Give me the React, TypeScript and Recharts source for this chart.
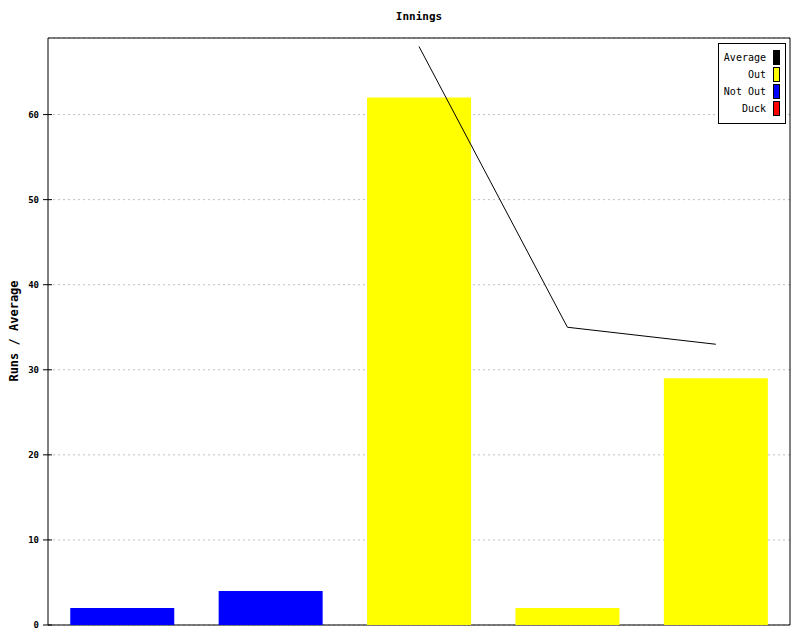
import React from 'react';
import { ComposedChart, Bar, Line, XAxis, YAxis, CartesianGrid, Legend, ReferenceArea } from 'recharts';

const innings = ['1', '2', '3', '4', '5'];
const outRuns: (number | null)[] = [null, null, 62, 2, 29];
const notOutRuns: (number | null)[] = [2, 4, null, null, null];
const duckRuns: (number | null)[] = [null, null, null, null, null];
const averageRuns: (number | null)[] = [null, null, 68, 35, 33];
const yTicks = [0, 10, 20, 30, 40, 50, 60];
const yMax = 69;
const legendNames = ['Average', 'Out', 'Not Out', 'Duck'];
const legendColors = ['#000000', '#ffff00', '#0000ff', '#ff0000'];

const data = innings.map((c, i) => ({
  inning: c,
  out: outRuns[i],
  notOut: notOutRuns[i],
  duck: duckRuns[i],
  average: averageRuns[i],
}));

const MONO = '"DejaVu Sans Mono", monospace';

const YTick = (props: any) => {
  const { x, y, payload } = props;
  return (
    <g>
      <line x1={x - 5} y1={y} x2={x + 4} y2={y} stroke="#000" strokeWidth={1} />
      <text x={x - 9} y={y} dy={3} textAnchor="end" fontFamily={MONO} fontSize={9} fontWeight="bold" fill="#000">
        {payload.value}
      </text>
    </g>
  );
};

const renderLegend = () => (
  <div
    style={{
      width: 68,
      height: 81,
      boxSizing: 'border-box',
      border: '1px solid #000',
      background: '#fff',
      paddingTop: 5,
      paddingRight: 5,
      fontFamily: MONO,
      fontSize: 10,
    }}
  >
    {legendNames.map((n, i) => (
      <div key={n} style={{ display: 'flex', justifyContent: 'flex-end', alignItems: 'center', height: 17 }}>
        <span style={{ lineHeight: '17px', color: '#000' }}>{n}</span>
        <span
          style={{
            display: 'inline-block',
            width: 7,
            height: 15,
            boxSizing: 'border-box',
            border: '1px solid #000',
            background: legendColors[i],
            marginLeft: 7,
          }}
        />
      </div>
    ))}
  </div>
);

export default function App() {
  return (
    <div style={{ position: 'absolute', left: 0, top: 0, width: 800, height: 640, background: '#fff' }}>
      <ComposedChart
        width={800}
        height={640}
        data={data}
        margin={{ top: 38, right: 10, bottom: 15, left: 0 }}
        barCategoryGap="15%"
      >
        <CartesianGrid vertical={false} stroke="#c0c0c0" strokeDasharray="2 3" horizontalPoints={undefined} />
        <XAxis dataKey="inning" height={0} tick={false} tickLine={false} axisLine={false} />
        <YAxis
          width={48}
          domain={[0, yMax]}
          ticks={yTicks}
          tickSize={0}
          tickMargin={0}
          tickLine={false}
          tick={<YTick />}
          axisLine={false}
          allowDataOverflow
        />
        <ReferenceArea y1={0} y2={yMax} fill="none" fillOpacity={0} stroke="#000" strokeWidth={1} isFront={false} />
        <Legend
          layout="vertical"
          align="center"
          verticalAlign="middle"
          content={renderLegend}
          wrapperStyle={{ left: 718, top: 43, width: 68, height: 81 }}
        />
        <Bar dataKey="out" name="Out" stackId="a" fill="#ffff00" isAnimationActive={false} />
        <Bar dataKey="notOut" name="Not Out" stackId="a" fill="#0000ff" isAnimationActive={false} />
        <Bar dataKey="duck" name="Duck" stackId="a" fill="#ff0000" isAnimationActive={false} />
        <Line
          dataKey="average"
          name="Average"
          type="linear"
          stroke="#000"
          strokeWidth={1}
          dot={false}
          activeDot={false}
          isAnimationActive={false}
        />
      </ComposedChart>
      <svg width={800} height={640} style={{ position: 'absolute', left: 0, top: 0, pointerEvents: 'none' }}>
        <text x={419} y={20} textAnchor="middle" fontFamily={MONO} fontSize={11} fontWeight="bold" fill="#000">
          Innings
        </text>
        <text
          x={18}
          y={331}
          textAnchor="middle"
          transform="rotate(-90 18 331)"
          fontFamily={MONO}
          fontSize={12}
          fontWeight="bold"
          fill="#000"
        >
          Runs / Average
        </text>
      </svg>
    </div>
  );
}
